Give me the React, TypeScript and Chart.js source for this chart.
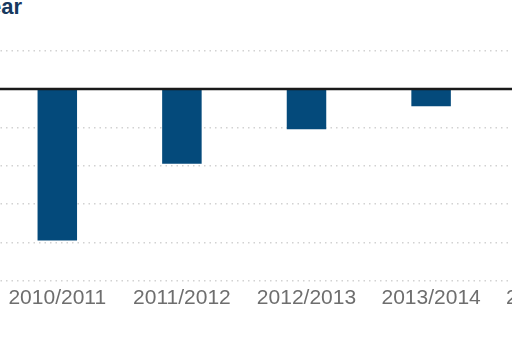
import React, { useEffect, useRef } from "react";
import { Chart, registerables } from "chart.js";

Chart.register(...registerables);

const seasons = ["2010/2011", "2011/2012", "2012/2013", "2013/2014", "2014/2015"];
const changeValues = [-3.95, -1.95, -1.05, -0.45, -0.3];
const axisMin = -5;
const axisMax = 1;
const axisStep = 1;

const zeroLinePlugin = {
  id: "zeroLine",
  afterDatasetsDraw(chart: any) {
    const y = chart.scales.y.getPixelForValue(0);
    const { ctx } = chart;
    ctx.save();
    ctx.strokeStyle = "#1a1a1a";
    ctx.lineWidth = 2.5;
    ctx.beginPath();
    ctx.moveTo(0, y);
    ctx.lineTo(chart.width, y);
    ctx.stroke();
    ctx.restore();
  },
};

export default function App() {
  const ref = useRef<HTMLCanvasElement | null>(null);
  useEffect(() => {
    if (!ref.current) return;
    const chart = new Chart(ref.current, {
      type: "bar",
      data: {
        labels: seasons,
        datasets: [
          {
            data: changeValues,
            backgroundColor: "#044a7b",
            barPercentage: 0.317,
            categoryPercentage: 1,
          },
        ],
      },
      options: {
        animation: false,
        responsive: false,
        maintainAspectRatio: false,
        layout: { padding: { top: 50.5, bottom: 25, left: 0, right: 0 } },
        plugins: { legend: { display: false }, tooltip: { enabled: false }, title: { display: false } },
        scales: {
          x: {
            grid: { display: false, drawTicks: false },
            border: { display: false },
            ticks: {
              color: "#6e6e6e",
              padding: 5,
              font: { family: "'Liberation Sans', Arial, sans-serif", size: 21 },
              maxRotation: 0,
              autoSkip: false,
            },
          },
          y: {
            min: axisMin,
            max: axisMax,
            ticks: { display: false, stepSize: axisStep },
            grid: {
              drawTicks: false,
              color: (c: any) => (c.tick && c.tick.value === 0 ? "rgba(0,0,0,0)" : "#d2d2d2"),
              lineWidth: 1.5,
            },
            border: { display: false, dash: [1.5, 4] },
          },
        },
      },
      plugins: [zeroLinePlugin],
    });
    return () => chart.destroy();
  }, []);

  return (
    <div style={{ position: "fixed", left: 0, top: 0, width: 512, height: 341, overflow: "hidden", background: "#fff" }}>
      <div
        style={{
          position: "absolute",
          right: 490,
          top: -4,
          whiteSpace: "nowrap",
          fontFamily: "'Liberation Sans', Arial, sans-serif",
          fontWeight: 700,
          fontSize: 22,
          lineHeight: 1,
          color: "#17395f",
          textAlign: "right",
        }}
      >
        Change per year
      </div>
      <canvas
        ref={ref}
        width={623}
        height={341}
        style={{ position: "absolute", left: -5, top: 0, width: 623, height: 341 }}
      />
    </div>
  );
}
